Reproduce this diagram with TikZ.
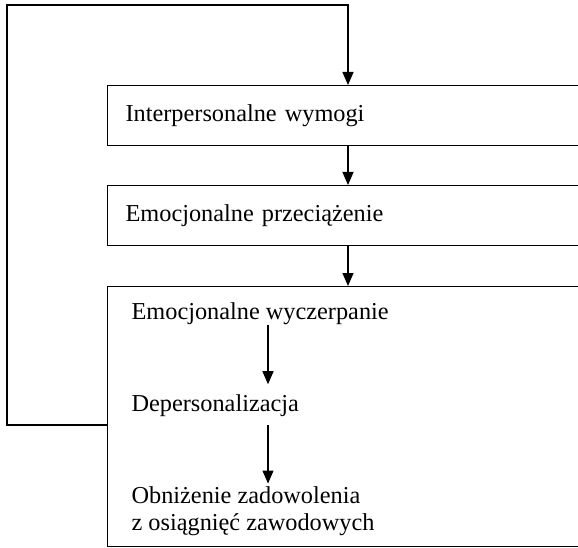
\documentclass[tikz,border=0pt]{standalone}
\usepackage{fontspec}
\setmainfont{Liberation Serif}
\usetikzlibrary{arrows.meta}

\begin{document}
\begin{tikzpicture}[x=1pt, y=-1pt, line width=1.2pt,
  every node/.style={font=\fontsize{24.3}{27}\selectfont},
  box/.style={draw, anchor=north west, minimum width=493pt, text width=457pt, inner xsep=18pt, align=left},
  txt/.style={anchor=base west, inner sep=0pt, align=left},
  arr/.style={-{Triangle[length=13pt,width=11pt]}}]
\useasboundingbox (0,0) rectangle (578,548);
\clip (0,0) rectangle (578,548);
\node[box, minimum height=60pt] (1) at (107,85) {Interpersonalne wymogi};
\node[box, minimum height=60pt] (2) at (107,185) {Emocjonalne przeciążenie};
\node[box, minimum height=260pt] (3) at (107,286) {};
\node[txt] (3a) at (131,319) {Emocjonalne wyczerpanie};
\node[txt] (3b) at (131,411.7) {Depersonalizacja};
\node[txt] (3c) at (131,530) {Obniżenie zadowolenia\\z osiągnięć zawodowych};
\coordinate (lp) at (7,425);
\coordinate (tp) at (348,5);
\coordinate (ix) at (268,0);
\draw[arr] (3.west |- lp) -- (lp) |- (tp) -- (1.north -| tp);
\draw[arr] (1.south -| tp) -- (2.north -| tp);
\draw[arr] (2.south -| tp) -- (3.north -| tp);
\draw[arr, shorten >=10pt] (3a.south -| ix) -- (3b.north -| ix);
\draw[arr, shorten <=8pt, shorten >=2pt] (3b.south -| ix) -- (3c.north -| ix);
\end{tikzpicture}
\end{document}
